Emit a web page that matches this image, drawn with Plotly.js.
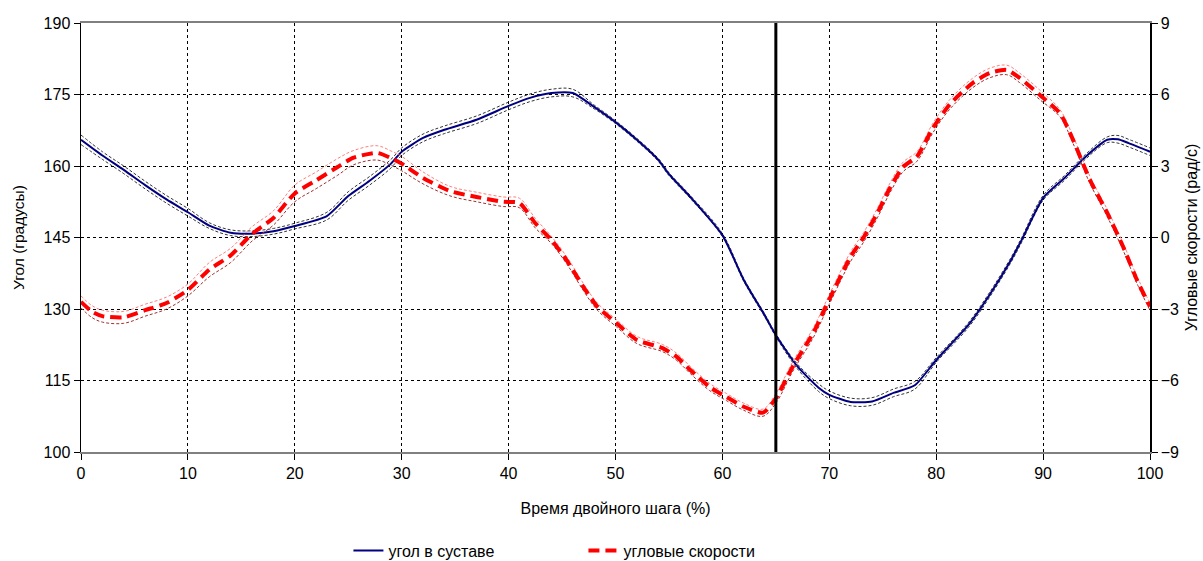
<!DOCTYPE html>
<html>
<head>
<meta charset="utf-8">
<script src="https://cdn.plot.ly/plotly-3.0.1.min.js"></script>
<style>html,body{margin:0;padding:0;background:#fff;}#chart{width:1203px;height:561px;}</style>
</head>
<body>
<div id="chart"></div>
<script>
// Joint angle (degrees), % of gait cycle
const angleX = [0,2,4,6,8,10,12,14,16,18,20,23,25,27,29,30,32,34,37,40,42,44,46,48,50,52,54,55,57,60,62,64,65,67,69,70,72,74,76,78,80,83,85,87,88,90,92,94,96,97,98,100];
const angleY = [165.5,162.2,159.2,156,153,150.3,147.5,146,145.8,146.3,147.4,149.5,153.7,156.9,160.5,163,165.9,167.6,169.7,172.6,174.3,175.3,175.3,172.4,169.2,165.5,161.3,158.3,153.5,145.5,136.1,128.5,124.5,118,113.5,112,110.5,110.6,112.4,114,119.3,126.6,133,140.3,144.5,153.3,157.5,162,165.5,165.6,164.8,163];
const angleSD = [1.0,0.8,0.8,0.8,0.8,0.8,0.6,0.6,0.6,0.6,0.6,0.8,0.9,0.9,0.9,0.8,0.8,0.8,0.8,0.8,0.8,0.8,0.8,0.4,0.3,0.3,0.3,0.3,0.3,0.3,0.3,0.3,0.3,0.5,0.8,0.8,0.8,0.8,0.8,0.8,0.5,0.5,0.5,0.5,0.5,0.5,0.5,0.5,0.6,0.8,0.8,0.8];

// Angular velocity (rad/s)
const velX = [0,1,2,4,6,8,10,12,14,16,18,20,22,24,25.5,27.7,29,30,32,34.5,37,39.5,41,42.5,44,45.5,47,48.3,50.1,52,54.4,55.7,57,58.8,60.4,62,63.8,65,66.6,68.5,70,72,73.2,74.5,75.7,76.9,78.2,79.7,81.3,83.4,85,86.6,87.8,89.7,91.6,92.8,94.4,96,97.5,98.8,100];
const velY = [-2.7,-3.1,-3.3,-3.35,-3.05,-2.75,-2.2,-1.35,-0.75,0.15,0.82,1.85,2.4,2.96,3.35,3.55,3.33,3.1,2.5,1.95,1.7,1.5,1.45,0.6,-0.1,-1.0,-2.08,-2.9,-3.6,-4.3,-4.64,-5.0,-5.56,-6.27,-6.7,-7.1,-7.35,-6.75,-5.4,-4.0,-2.6,-0.8,0,1.03,2.1,2.96,3.4,4.6,5.6,6.48,6.9,7.03,6.7,5.98,5.2,4.1,2.4,1.03,-0.4,-1.8,-2.9];
const velSD = [0.25,0.25,0.25,0.25,0.25,0.25,0.25,0.3,0.3,0.3,0.3,0.35,0.35,0.35,0.3,0.3,0.3,0.3,0.25,0.2,0.2,0.2,0.2,0.2,0.15,0.15,0.15,0.15,0.15,0.15,0.15,0.15,0.15,0.15,0.15,0.15,0.15,0.2,0.2,0.2,0.2,0.2,0.2,0.2,0.2,0.2,0.2,0.2,0.2,0.2,0.2,0.2,0.2,0.2,0.15,0.15,0.15,0.15,0.15,0.15,0.15];

const legendNames = ['угол в суставе', 'угловые скорости'];

const angleUp = angleY.map((v,i)=>v+angleSD[i]);
const angleLo = angleY.map((v,i)=>v-angleSD[i]);
const velUp = velY.map((v,i)=>v+velSD[i]);
const velLo = velY.map((v,i)=>v-velSD[i]);

const traces = [
  {x: angleX, y: angleUp, type:'scatter', mode:'lines', line:{color:'#333', width:1, dash:'3px,2px', shape:'spline'}, showlegend:false, hoverinfo:'skip'},
  {x: angleX, y: angleLo, type:'scatter', mode:'lines', line:{color:'#333', width:1, dash:'3px,2px', shape:'spline'}, showlegend:false, hoverinfo:'skip'},
  {x: velX, y: velUp, yaxis:'y2', type:'scatter', mode:'lines', line:{color:'#ff8080', width:1, dash:'3px,2px', shape:'spline'}, showlegend:false, hoverinfo:'skip'},
  {x: velX, y: velLo, yaxis:'y2', type:'scatter', mode:'lines', line:{color:'#a03030', width:1, dash:'3px,2px', shape:'spline'}, showlegend:false, hoverinfo:'skip'},
  {x: angleX, y: angleY, name: legendNames[0], type:'scatter', mode:'lines', line:{color:'#000080', width:2, shape:'spline', smoothing:0.6}},
  {x: velX, y: velY, name: legendNames[1], yaxis:'y2', type:'scatter', mode:'lines', line:{color:'#ff0000', width:4, dash:'11px,6px', shape:'spline', smoothing:0.6}}
];

const FF = 'Liberation Sans, Arial, sans-serif';
const tickFont = {family:FF, size:16, color:'#000'};
const titleFont = {family:FF, size:16, color:'#000'};

const layout = {
  width:1203, height:561,
  paper_bgcolor:'#fff', plot_bgcolor:'#fff',
  margin:{l:81, r:53, t:23, b:109, autoexpand:false},
  showlegend:true,
  legend:{orientation:'h', x:0.47, xanchor:'center', y:-0.23, yanchor:'middle', font:{family:FF, size:16, color:'#000'}, entrywidth:190, traceorder:'normal'},
  xaxis:{range:[0,100], dtick:10, tick0:0, showgrid:true, gridcolor:'#000', griddash:'3px,3px', gridwidth:1, automargin:false,
    showline:true, linecolor:'#808080', linewidth:2, mirror:true, ticks:'outside', ticklen:6, tickcolor:'#000',
    tickfont:tickFont, zeroline:false,
    title:{text:'Время двойного шага (%)', font:titleFont, standoff:22}},
  yaxis:{range:[100,190], dtick:15, tick0:100, showgrid:true, gridcolor:'#000', griddash:'3px,3px', gridwidth:1, automargin:false,
    showline:true, linecolor:'#000', linewidth:1.5, ticks:'outside', ticklen:6, tickcolor:'#000',
    tickfont:tickFont, zeroline:false,
    title:{text:'Угол (градусы)', font:{family:FF, size:15.5, color:'#000'}, standoff:15}},
  yaxis2:{range:[-9,9], dtick:3, tick0:-9, overlaying:'y', side:'right', showgrid:false, automargin:false,
    showline:true, linecolor:'#000', linewidth:1.5, ticks:'outside', ticklen:6, tickcolor:'#000',
    tickfont:tickFont, zeroline:false,
    title:{text:'Угловые скорости (рад/с)', font:titleFont, standoff:8}},
  shapes:[{type:'line', xref:'x', yref:'paper', x0:65, x1:65, y0:0, y1:1, line:{color:'#000', width:3}}]
};

Plotly.newPlot('chart', traces, layout, {displayModeBar:false, staticPlot:true});
</script>
</body>
</html>
